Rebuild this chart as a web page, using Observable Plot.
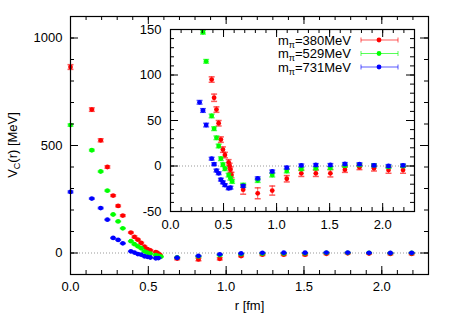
<!DOCTYPE html>
<html><head><meta charset="utf-8">
<script src="https://cdn.jsdelivr.net/npm/d3@7"></script>
<script src="https://cdn.jsdelivr.net/npm/@observablehq/plot@0.6"></script>
<style>
body{margin:0;background:#fff;}
#wrap{position:relative;width:452px;height:316px;}
#wrap svg{position:absolute;left:0;top:0;}
</style>
</head><body><div id="wrap"></div>
<script>
// ---- data (r in fm, V_C in MeV, error in MeV) ----
const seriesNames = ["380", "529", "731"];
const seriesColors = ["#ff0000", "#00ff00", "#0000ff"];

const r380 = [0, 0.137, 0.194, 0.237, 0.274, 0.306, 0.336, 0.388, 0.411, 0.433, 0.454, 0.475, 0.494, 0.513, 0.548, 0.557, 0.565, 0.575, 0.685, 0.822, 0.959, 1.096, 1.233, 1.370, 1.507, 1.644, 1.781, 1.918, 2.055, 2.192];
const v380 = [865, 667, 524, 400, 267, 219, 174, 95, 75, 62, 47, 29, 18, 12, 4, 0, -4, -10, -26, -30, -27, -14, -8, -8, -8, -4, -1.5, -2.5, -4.5, -4.5];
const e380 = [11, 8, 7, 5, 4, 4, 4, 3, 4, 3, 3, 3, 3, 3, 3, 3, 3, 3, 5, 6, 5, 3.5, 3.5, 3.5, 4, 3, 2.5, 3, 3.5, 3.5];

const r529 = [0, 0.137, 0.194, 0.237, 0.274, 0.306, 0.336, 0.388, 0.411, 0.433, 0.454, 0.475, 0.494, 0.513, 0.548, 0.565, 0.581, 0.685, 0.822, 0.959, 1.096, 1.233, 1.370, 1.507, 1.644, 1.781, 1.918, 2.055, 2.192];
const v529 = [595, 478, 379, 290, 179, 147, 115, 55, 41, 31, 22, 8, 1.5, -3, -10, -13.5, -17, -21, -16, -10, -5.5, -3.3, -2.6, -2.2, 0.4, 1, 0.7, -1, 0];
const e529 = [5, 4, 3, 3, 2, 2, 2, 2, 2, 2, 2, 2, 2, 2, 2, 2, 2, 2, 2, 2, 2, 1.5, 1.5, 1.5, 1.5, 1.5, 1.5, 1.5, 1.5];

const r731 = [0, 0.137, 0.194, 0.237, 0.274, 0.306, 0.336, 0.388, 0.411, 0.433, 0.454, 0.475, 0.494, 0.513, 0.548, 0.565, 0.685, 0.822, 0.959, 1.096, 1.233, 1.370, 1.507, 1.644, 1.781, 1.918, 2.055, 2.192];
const v731 = [284, 253, 209, 155, 70, 61, 45, 8, 2, -5, -8, -15, -18, -21, -24.5, -23.8, -22, -13.5, -6, -1.8, 0.7, 1.1, 1.1, 2.2, 2, 0.7, 0, 0.7];
const e731 = [4, 3, 3, 2, 2, 2, 2, 1.5, 1.5, 1.5, 1.5, 1.5, 1.5, 1.5, 1.5, 1.5, 1.5, 1.5, 1.5, 1.5, 1.5, 1.5, 1.5, 1.5, 1.5, 1.5, 1.5, 1.5];

// tick values
const xMajor = [0, 0.5, 1.0, 1.5, 2.0];
const yMajorMain = [0, 500, 1000];
const yMajorInset = [-50, 0, 50, 100, 150];
const xLabel = "r [fm]";

// ---- build ----
const mk = (rs, vs, es, i) => rs.map((r, k) => ({r, v: vs[k], e: es[k], c: seriesColors[i]}));
const sets = [mk(r380, v380, e380, 0), mk(r529, v529, e529, 1), mk(r731, v731, e731, 2)];

const cap = {draw(ctx) { ctx.moveTo(-3, 0); ctx.lineTo(3, 0); }};
const font = "'Liberation Sans', Arial, Helvetica, sans-serif";

function dataMarks(clip) {
  const m = [];
  sets.forEach(d => {
    m.push(Plot.ruleX(d, {x: "r", y1: p => p.v - p.e, y2: p => p.v + p.e, stroke: "c", strokeOpacity: 0.65, clip}));
    m.push(Plot.dot(d, {x: "r", y: p => p.v - p.e, symbol: cap, stroke: "c", strokeOpacity: 0.65, fill: "none", clip}));
    m.push(Plot.dot(d, {x: "r", y: p => p.v + p.e, symbol: cap, stroke: "c", strokeOpacity: 0.65, fill: "none", clip}));
    m.push(Plot.dot(d, {x: "r", y: "v", r: 2.4, fill: "c", stroke: null, clip}));
  });
  return m;
}

function tickMarks(innerW, innerH, xMin, xMaj, yMin, yMaj) {
  const L = 8, S = 4;
  return [
    Plot.tickX(xMin, {x: d => d, insetTop: innerH - S}),
    Plot.tickX(xMin, {x: d => d, insetBottom: innerH - S}),
    Plot.tickX(xMaj, {x: d => d, insetTop: innerH - L}),
    Plot.tickX(xMaj, {x: d => d, insetBottom: innerH - L}),
    Plot.tickY(yMin, {y: d => d, insetRight: innerW - S}),
    Plot.tickY(yMin, {y: d => d, insetLeft: innerW - S}),
    Plot.tickY(yMaj, {y: d => d, insetRight: innerW - L}),
    Plot.tickY(yMaj, {y: d => d, insetLeft: innerW - L})
  ];
}

const W = 452, H = 316;
// main
const mL = 70, mR = 24, mT = 16, mB = 42;
const mW = W - mL - mR, mH = H - mT - mB;
const main = Plot.plot({
  width: W, height: H,
  marginLeft: mL, marginRight: mR, marginTop: mT, marginBottom: mB,
  x: {domain: [0, 2.3]},
  y: {domain: [-100, 1100]},
  style: {fontFamily: font, fontSize: "13px", background: "white", color: "black", overflow: "visible"},
  marks: [
    Plot.ruleY([0], {stroke: "#999", strokeDasharray: "1,2"}),
    ...dataMarks(false),
    ...tickMarks(mW, mH, d3.range(0, 2.301, 0.1), xMajor, d3.range(-100, 1101, 100), yMajorMain),
    Plot.frame({stroke: "black", strokeWidth: 1.2}),
    Plot.axisX(xMajor, {tickSize: 0, tickPadding: 7, tickFormat: d3.format(".1f"), label: null, fontSize: 13}),
    Plot.axisY(yMajorMain, {tickSize: 0, tickPadding: 8, tickFormat: d => String(d), label: null, fontSize: 13}),
    Plot.text([xLabel], {frameAnchor: "bottom", dy: 35, fontSize: 13})
  ]
});

// inset
const iL = 170, iR = 38, iT = 29, iB = 105;
const iW = W - iL - iR, iH = H - iT - iB;
const inset = Plot.plot({
  width: W, height: H,
  marginLeft: iL, marginRight: iR, marginTop: iT, marginBottom: iB,
  x: {domain: [0, 2.3]},
  y: {domain: [-50, 150]},
  style: {fontFamily: font, fontSize: "13px", background: "transparent", color: "black", overflow: "visible"},
  marks: [
    Plot.frame({fill: "white", stroke: null}),
    Plot.ruleY([0], {stroke: "#999", strokeDasharray: "1,2"}),
    ...dataMarks(true),
    ...tickMarks(iW, iH, d3.range(0, 2.301, 0.1), xMajor, d3.range(-50, 151, 10), yMajorInset),
    Plot.frame({stroke: "black", strokeWidth: 1.2}),
    Plot.axisX(xMajor, {tickSize: 0, tickPadding: 8, tickFormat: d3.format(".1f"), label: null, fontSize: 13}),
    Plot.axisY(yMajorInset, {tickSize: 0, tickPadding: 9, tickFormat: d => String(d), label: null, fontSize: 13})
  ]
});

const wrap = document.getElementById("wrap");
wrap.appendChild(main);
wrap.appendChild(inset);

// y-axis title with subscript
const ms = d3.select(main);
const yt = ms.append("text")
  .attr("transform", "translate(17,145) rotate(-90)")
  .attr("text-anchor", "middle")
  .attr("font-family", font).attr("font-size", 13).attr("fill", "black");
yt.append("tspan").text("V");
yt.append("tspan").attr("font-size", 9).attr("dy", 3).text("C");
yt.append("tspan").attr("dy", -3).text("(r) [MeV]");

// legend inside inset
const is = d3.select(inset);
const rowsY = [40, 53.5, 67];
seriesNames.forEach((n, i) => {
  const y = rowsY[i];
  const t = is.append("text").attr("x", 351).attr("y", y + 4.5)
    .attr("text-anchor", "end").attr("font-family", font).attr("font-size", 13).attr("fill", "black");
  t.append("tspan").text("m");
  t.append("tspan").attr("font-size", 9).attr("dy", 3).text("π");
  t.append("tspan").attr("dy", -3).text("=" + n + "MeV");
  const g = is.append("g").attr("stroke", seriesColors[i]).attr("stroke-opacity", 0.65);
  g.append("line").attr("x1", 361).attr("x2", 398).attr("y1", y).attr("y2", y);
  g.append("line").attr("x1", 361).attr("x2", 361).attr("y1", y - 2.5).attr("y2", y + 2.5);
  g.append("line").attr("x1", 398).attr("x2", 398).attr("y1", y - 2.5).attr("y2", y + 2.5);
  is.append("circle").attr("cx", 379).attr("cy", y).attr("r", 2.4).attr("fill", seriesColors[i]);
});
</script>
</body></html>
